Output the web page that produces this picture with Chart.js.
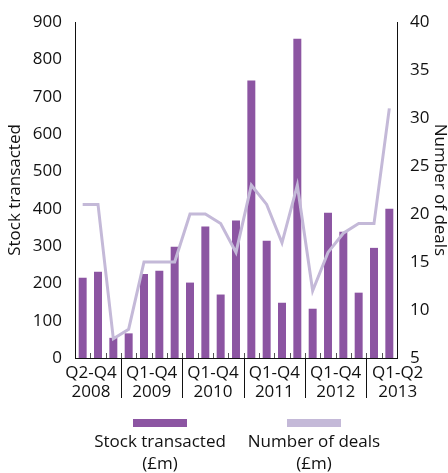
<!DOCTYPE html>
<html lang="en">
  <head>
    <meta charset="UTF-8" />
    <title>Stock transacted and number of deals</title>
    <script src="https://cdn.jsdelivr.net/npm/chart.js"></script>
    <style>
      body {
        margin: 0;
        background: #fff;
      }
    </style>
  </head>
  <body>
    <canvas id="dealsChart" width="448" height="473"></canvas>

    <script>
      // quarters Q2 2008 .. Q2 2013
      var quarters = [
        "Q2 2008", "Q3 2008", "Q4 2008",
        "Q1 2009", "Q2 2009", "Q3 2009", "Q4 2009",
        "Q1 2010", "Q2 2010", "Q3 2010", "Q4 2010",
        "Q1 2011", "Q2 2011", "Q3 2011", "Q4 2011",
        "Q1 2012", "Q2 2012", "Q3 2012", "Q4 2012",
        "Q1 2013", "Q2 2013"
      ];
      var stockTransacted = [
        215, 231, 54, 66, 225, 234, 298, 202, 352, 170, 368,
        743, 314, 148, 855, 132, 389, 338, 175, 295, 400
      ];
      var numberOfDeals = [
        21, 21, 7, 8, 15, 15, 15, 20, 20, 19, 16,
        23, 21, 17, 23, 12, 16, 18, 19, 19, 31
      ];
      // year groups: label lines and how many quarters each covers
      var groupTop = ["Q2-Q4", "Q1-Q4", "Q1-Q4", "Q1-Q4", "Q1-Q4", "Q1-Q2"];
      var groupYear = ["2008", "2009", "2010", "2011", "2012", "2013"];
      var groupSize = [3, 4, 4, 4, 4, 2];
      var leftTicks = [0, 100, 200, 300, 400, 500, 600, 700, 800, 900];
      var rightTicks = [5, 10, 15, 20, 25, 30, 35, 40];
      var legendLines = [
        ["Stock transacted", "(£m)"],
        ["Number of deals", "(£m)"]
      ];

      var barColor = "#8c55a2";
      var lineColor = "#c4b9d8";
      var fontFamily = "'Open Sans', sans-serif";
      var fontSize = 17;

      // bottom axis decoration, year groups and legend
      var extrasPlugin = {
        id: "extras",
        afterDraw: function (chart) {
          var ctx = chart.ctx;
          var x = chart.scales.x;
          var area = chart.chartArea;
          var step = x.getPixelForValue(1) - x.getPixelForValue(0);
          ctx.save();

          // small inward ticks between quarters
          ctx.strokeStyle = "#555";
          ctx.lineWidth = 1;
          for (var i = 1; i < quarters.length; i++) {
            var px = Math.round(x.getPixelForValue(i) - step / 2) + 0.5;
            ctx.beginPath();
            ctx.moveTo(px, area.bottom);
            ctx.lineTo(px, area.bottom - 5);
            ctx.stroke();
          }

          // year separators + group labels
          ctx.fillStyle = "#111";
          ctx.font = fontSize + "px " + fontFamily;
          ctx.textAlign = "center";
          ctx.textBaseline = "alphabetic";
          var start = 0;
          for (var g = 0; g < groupSize.length; g++) {
            var end = start + groupSize[g];
            var left = x.getPixelForValue(start) - step / 2;
            var right = x.getPixelForValue(end - 1) + step / 2;
            var cx = (left + right) / 2;
            if (g === 0) cx -= 7;
            if (g === groupSize.length - 1) cx += 16;
            ctx.fillText(groupTop[g], cx, area.bottom + 20);
            ctx.fillText(groupYear[g], cx, area.bottom + 39);
            if (g < groupSize.length - 1) {
              var sx = Math.round(right) + 0.5;
              ctx.strokeStyle = "#111";
              ctx.beginPath();
              ctx.moveTo(sx, area.bottom);
              ctx.lineTo(sx, area.bottom + 40);
              ctx.stroke();
            }
            start = end;
          }

          // legend
          var mid = (area.left + area.right) / 2;
          var items = [
            { cx: mid - 76, color: barColor },
            { cx: mid + 78, color: lineColor }
          ];
          for (var k = 0; k < items.length; k++) {
            ctx.fillStyle = items[k].color;
            ctx.fillRect(items[k].cx - 27, 419, 54, 8);
            ctx.fillStyle = "#111";
            ctx.fillText(legendLines[k][0], items[k].cx, 447);
            ctx.fillText(legendLines[k][1], items[k].cx, 469);
          }
          ctx.restore();
        },
      };

      var ctx = document.getElementById("dealsChart").getContext("2d");
      var chart = new Chart(ctx, {
        data: {
          labels: quarters,
          datasets: [
            {
              type: "line",
              label: "Number of deals",
              data: numberOfDeals,
              yAxisID: "y1",
              borderColor: lineColor,
              borderWidth: 3,
              pointRadius: 0,
              tension: 0,
              order: 0,
            },
            {
              type: "bar",
              label: "Stock transacted",
              data: stockTransacted,
              yAxisID: "y",
              backgroundColor: barColor,
              categoryPercentage: 1,
              barPercentage: 0.52,
              order: 1,
            },
          ],
        },
        options: {
          responsive: false,
          animation: false,
          layout: { padding: { top: 22, left: 0, right: 0, bottom: 0 } },
          plugins: {
            legend: { display: false },
            tooltip: { enabled: false },
          },
          scales: {
            x: {
              ticks: { display: false },
              grid: { display: false },
              border: { display: true, color: "#111", width: 1 },
              afterFit: function (scale) {
                scale.height = 115;
              },
            },
            y: {
              position: "left",
              min: 0,
              max: 900,
              afterBuildTicks: function (scale) {
                scale.ticks = leftTicks.map(function (v) { return { value: v }; });
              },
              ticks: {
                color: "#111",
                padding: 5,
                font: { family: fontFamily, size: fontSize },
              },
              grid: { display: false },
              border: { display: true, color: "#111", width: 1 },
              title: {
                display: true,
                text: "Stock transacted",
                color: "#111",
                padding: { top: 5, bottom: 0 },
                font: { family: fontFamily, size: fontSize },
              },
              afterFit: function (scale) {
                scale.width = 75;
              },
            },
            y1: {
              position: "right",
              min: 5,
              max: 40,
              afterBuildTicks: function (scale) {
                scale.ticks = rightTicks.map(function (v) { return { value: v }; });
              },
              ticks: {
                color: "#111",
                padding: 5,
                font: { family: fontFamily, size: fontSize },
              },
              grid: { display: false },
              border: { display: true, color: "#111", width: 1 },
              title: {
                display: true,
                text: "Number of deals",
                color: "#111",
                padding: { top: 0, bottom: 0 },
                font: { family: fontFamily, size: fontSize, lineHeight: 1 },
              },
              afterFit: function (scale) {
                scale.width = 51;
              },
            },
          },
        },
        plugins: [extrasPlugin],
      });
    </script>
  </body>
</html>
